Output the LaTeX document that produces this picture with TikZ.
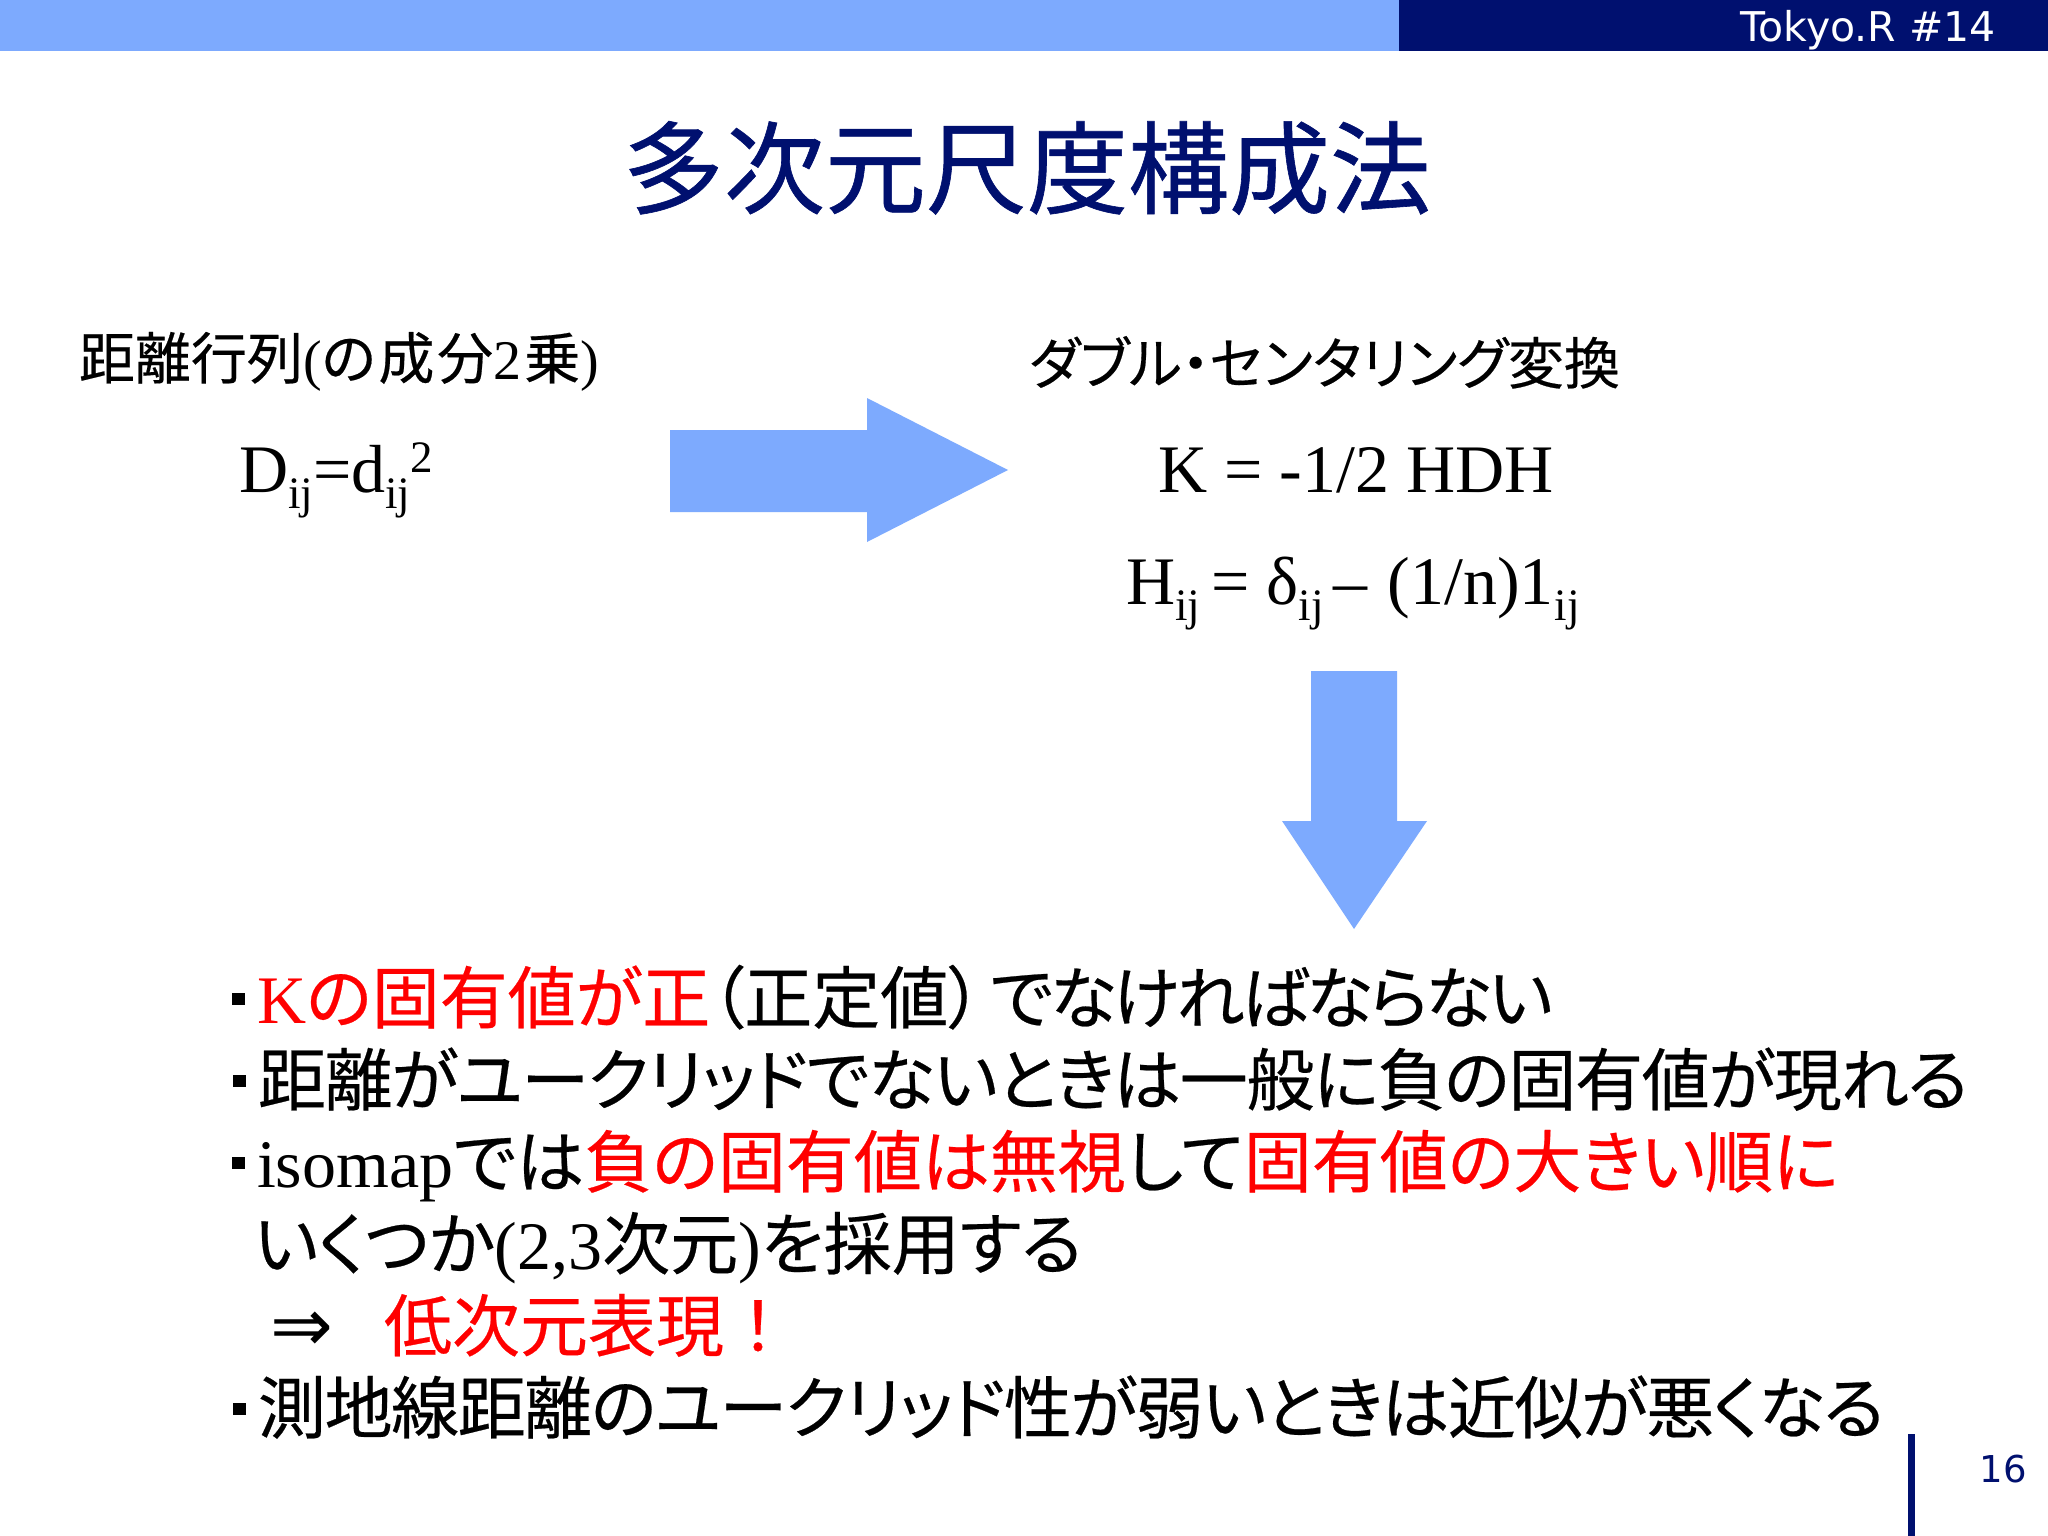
\documentclass[tikz,border=0pt]{standalone}
\usepackage{fontspec}
\setmainfont{Liberation Serif}
\newfontfamily\jpfont[RawFeature=+palt, FakeBold=0.35]{Noto Sans CJK JP}
\newfontfamily\jpfix[FakeBold=0.35]{Noto Sans CJK JP}
\newfontfamily\titlefont[FakeBold=0.6]{Noto Sans CJK JP}
\newfontfamily\uifont{DejaVu Sans}
\usetikzlibrary{positioning}
\definecolor{slideblue}{HTML}{7DAAFE}
\definecolor{slidenavy}{HTML}{00106F}
\definecolor{slidered}{HTML}{FF0000}
\newcommand{\jp}[1]{{\jpfont #1}}
\newcommand{\jpt}[2]{{\jpfont\addfontfeature{LetterSpace=#1}#2}}
\newcommand{\rd}[1]{\textcolor{slidered}{#1}}
\newcommand{\sbsc}[1]{\raisebox{-16pt}{\fontsize{45}{45}\selectfont #1}}
\newcommand{\spsc}[1]{\raisebox{20pt}{\fontsize{45}{45}\selectfont #1}}
\newcommand{\bul}{\llap{\rule[18pt]{13pt}{12pt}\hspace{12pt}}}
\tikzset{
	txt/.style={anchor=base west, inner sep=0pt, outer sep=0pt},
	heading/.style={txt, font=\fontsize{56}{56}\selectfont},
	formula/.style={txt, font=\fontsize{68}{68}\selectfont},
	bullet/.style={txt, font=\fontsize{68}{68}\selectfont},
	bigarrow/.style={fill=slideblue, draw=none},
	band/.style={fill=#1, draw=none}
}
\begin{document}
\begin{tikzpicture}[x=1pt, y=-1pt]
	\useasboundingbox (0,0) rectangle (2048,1536);
	\fill[white] (0,0) rectangle (2048,1536);

	\fill[band=slideblue] (0,0) rectangle (1399,51);
	\fill[band=slidenavy] (1399,0) rectangle (2048,51);
	\node[anchor=base east, inner sep=0pt, text=white, font=\uifont\fontsize{41}{41}\selectfont] (tag) at (1996,42) {Tokyo.R \#14};

	\node[anchor=center, inner sep=0pt, text=slidenavy, font=\titlefont\fontsize{101}{101}\selectfont] (title) at (1027,168) {多次元尺度構成法};

	\node[heading] (distlabel) at (79,379) {\jp{距離行列}(\jpt{5}{の成分}2\hspace{3pt}\jp{乗})};
	\node[heading] (centerlabel) at (1029,384) {\jp{ダブル・センタリング変換}};

	\node[formula] (dform) at (239,492) {D\sbsc{ij}=d\sbsc{ij}\spsc{2}};
	\node[formula] (kform) at (1158,492) {K = -1/2 HDH};
	\node[formula] (hform) at (1126,604) {H\sbsc{ij}\hspace{11pt}= δ\sbsc{ij}\hspace{10pt}–\hspace{20pt}(1/n)1\hspace{1pt}\sbsc{ij}};

	\fill[bigarrow] (670,430) -- (867,430) -- (867,398) -- (1008,470) -- (867,542) -- (867,512) -- (670,512) -- cycle;
	\fill[bigarrow] (1311,671) -- (1397,671) -- (1397,821) -- (1427,821) -- (1354,929) -- (1282,821) -- (1311,821) -- cycle;

	\node[bullet] (line1) at (257,1023) {\bul\rd{K\jp{の固有値が正}}\jp{（正定値）}\hspace{8pt}\jpt{-4.9}{でなければならない}};
	\node[bullet] (line2) at (258,1105) {\bul\jpt{-1.9}{距離がユークリッドでないときは一般に負の固有値が現れる}};
	\node[bullet] (line3) at (257,1187) {\bul isomap\jp{では}\rd{\jp{負の固有値は無視}}\jp{して}\rd{\jp{固有値の大きい順に}}};
	\node[bullet] (line4) at (254,1269) {\jp{いくつか}(2,3\jp{次元})\jp{を採用する}};
	\node[bullet] (line5) at (270,1351) {\makebox[114pt][l]{\uifont\fontsize{75}{75}\selectfont ⇒}\rd{\jpfix 低次元表現！}};
	\node[bullet] (line6) at (258,1433) {\bul\jpt{-2.1}{測地線距離のユークリッド性が弱いときは近似が悪くなる}};

	\fill[band=slidenavy] (1908,1434) rectangle (1915,1536);
	\node[anchor=base east, inner sep=0pt, text=slidenavy, font=\uifont\fontsize{37}{37}\selectfont] (pageno) at (2027,1482) {16};
\end{tikzpicture}
\end{document}
